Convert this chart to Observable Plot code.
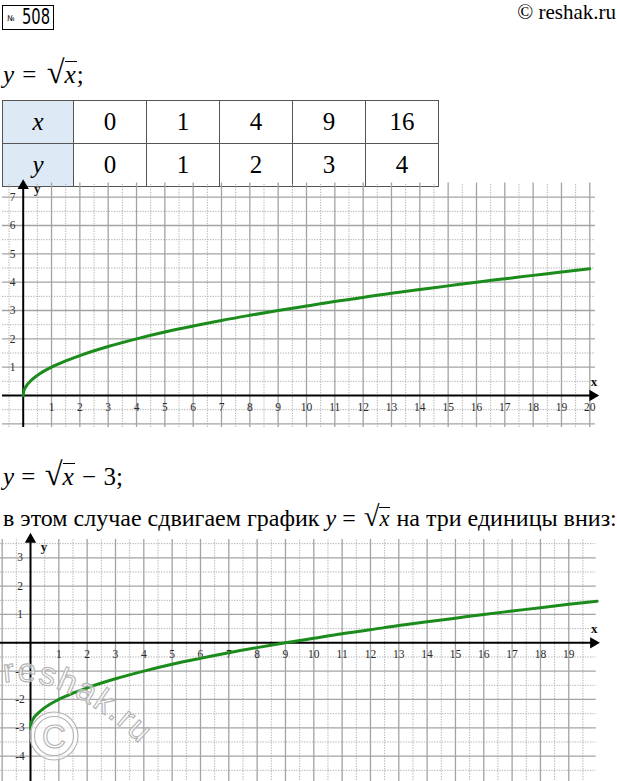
<!DOCTYPE html>
<html>
<head>
<meta charset="utf-8">
<script src="https://cdn.jsdelivr.net/npm/d3@7"></script>
<script src="https://cdn.jsdelivr.net/npm/@observablehq/plot@0.6"></script>
<style>
  html, body { margin: 0; padding: 0; background: #fff; }
  body { width: 617px; height: 781px; position: relative; overflow: hidden; font-family: "Liberation Serif", serif; color: #000; }
  .abs { position: absolute; }
  #num { left: 2px; top: 5px; width: 50px; height: 23px; border: 1.5px solid #000; line-height: 23px; white-space: nowrap; }
  #num .n { font-family: "DejaVu Sans Condensed", sans-serif; font-size: 8px; position: absolute; left: 4px; top: 1px; }
  #num .d { font-family: "DejaVu Sans Condensed", sans-serif; font-size: 21px; position: absolute; left: 19px; top: 0px; display: inline-block; transform: scaleX(0.78); transform-origin: left center; }
  #copy { right: 1px; top: 0px; font-size: 21px; white-space: nowrap; }
  .f { left: 3px; font-size: 25px; white-space: nowrap; line-height: 30px; }
  .rad { font-size: 1.3em; margin-left: 2px; }
  .ol { display: inline-block; border-top: 1.4px solid #000; line-height: 0.9; padding-top: 1px; padding-right: 1px; font-size: 0.78em; }
  table { position: absolute; left: 2px; top: 100px; border-collapse: collapse; font-size: 25px; }
  td { border: 1.2px solid #555; height: 42px; padding: 0; text-align: center; width: 72px; }
  td.h { background: #dde9f4; width: 70px; font-style: italic; }
  .chart { position: absolute; left: 0; }
</style>
</head>
<body>
<div id="num" class="abs"><span class="n">№</span><span class="d">508</span></div>
<div id="copy" class="abs">© reshak.ru</div>
<div class="abs f" style="top:57px; word-spacing:2px"><i>y</i> = <span class="rad">√<span class="ol"><i>x</i></span></span>;</div>
<div id="tbl"></div>
<div id="c1" class="chart" style="top:170px"></div>
<div class="abs f" style="top:459px; word-spacing:1px"><i>y</i> = <span class="rad">√<span class="ol"><i>x</i></span></span> − 3;</div>
<div class="abs f" id="line2" style="top:501px; font-size:24px">в этом случае сдвигаем график <i>y</i> = <span class="rad" style="font-size:1.2em">√<span class="ol"><i>x</i></span></span> на три единицы вниз:</div>
<div id="c2" class="chart" style="top:520px"></div>
<svg class="abs" style="left:0;top:0;pointer-events:none" width="617" height="781">
  <defs><path id="wmArc" d="M 3 683 C 45 674, 108 702, 172 779"/></defs>
  <g fill="rgba(255,255,255,0.55)" stroke="#b3b3b3" stroke-width="1.1">
    <circle cx="54" cy="736" r="24"/>
    <circle cx="54" cy="736" r="19.5"/>
    <text x="54" y="748" text-anchor="middle" font-family="Liberation Sans, sans-serif" font-size="33">C</text>
    <text font-family="Liberation Sans, sans-serif" font-size="33" letter-spacing="2"><textPath href="#wmArc" startOffset="1">reshak.ru</textPath></text>
  </g>
</svg>
<script>
// ---- data ----
const tableX = [0, 1, 4, 9, 16];
const tableY = [0, 1, 2, 3, 4];

const curveX  = [0, 0.02, 0.1, 0.25, 0.5, 1, 1.5, 2, 3, 4, 5, 6, 7, 8, 9, 10, 11, 12, 13, 14, 15, 16, 17, 18, 19, 20];
const curveY1 = [0, 0.14, 0.32, 0.5, 0.71, 1, 1.22, 1.41, 1.73, 2, 2.24, 2.45, 2.65, 2.83, 3, 3.16, 3.32, 3.46, 3.61, 3.74, 3.87, 4, 4.12, 4.24, 4.36, 4.47];
const curveY2 = [-3, -2.86, -2.68, -2.5, -2.29, -2, -1.78, -1.59, -1.27, -1, -0.76, -0.55, -0.35, -0.17, 0, 0.16, 0.32, 0.46, 0.61, 0.74, 0.87, 1, 1.12, 1.24, 1.36, 1.47];

const xTicks1 = [1, 2, 3, 4, 5, 6, 7, 8, 9, 10, 11, 12, 13, 14, 15, 16, 17, 18, 19, 20];
const yTicks1 = [1, 2, 3, 4, 5, 6, 7];
const xTicks2 = [1, 2, 3, 4, 5, 6, 7, 8, 9, 10, 11, 12, 13, 14, 15, 16, 17, 18, 19];
const yTicks2 = [-4, -3, -2, -1, 1, 2, 3];

// ---- table ----
{
  const t = document.createElement("table");
  const r1 = t.insertRow(), r2 = t.insertRow();
  const h1 = r1.insertCell(); h1.className = "h"; h1.textContent = "x";
  const h2 = r2.insertCell(); h2.className = "h"; h2.textContent = "y";
  tableX.forEach((v, i) => {
    r1.insertCell().textContent = v;
    r2.insertCell().textContent = tableY[i];
  });
  document.getElementById("tbl").appendChild(t);
}

const serif = "Liberation Serif, serif";
const U = 28.33;
const GREEN = "#1b8c1b";

function graph({x0px, y0px, height, xmin, xmax, ymin, ymax, axisXEnd, axisYEnd, xTicks, yTicks, ys, xLabel, yLabel}) {
  const majorX = d3.range(Math.ceil(xmin), Math.floor(xmax) + 1).filter(v => v !== 0);
  const minorX = d3.range(Math.ceil(xmin - 0.5) + 0.5, xmax, 1);
  const majorY = d3.range(Math.ceil(ymin), Math.floor(ymax) + 1).filter(v => v !== 0);
  const minorY = d3.range(Math.ceil(ymin - 0.5) + 0.5, ymax, 1);
  const pts = curveX.map((x, i) => ({x, y: ys[i]}));
  return Plot.plot({
    width: 617,
    height,
    margin: 0,
    style: {background: "transparent", overflow: "visible", fontFamily: serif},
    x: {domain: [0, 1], range: [x0px, x0px + U], axis: null},
    y: {domain: [0, 1], range: [y0px, y0px - U], axis: null},
    marks: [
      Plot.ruleX(minorX, {y1: ymin, y2: ymax, stroke: "#b0b0b0", strokeWidth: 1, strokeDasharray: "1.3,1.3"}),
      Plot.ruleY(minorY, {x1: xmin, x2: xmax, stroke: "#b0b0b0", strokeWidth: 1, strokeDasharray: "1.3,1.3"}),
      Plot.ruleX(majorX, {y1: ymin, y2: ymax, stroke: "#a3a3a3", strokeWidth: 1.3}),
      Plot.ruleY(majorY, {x1: xmin, x2: xmax, stroke: "#a3a3a3", strokeWidth: 1.3}),
      Plot.ruleY([0], {x1: xmin, x2: axisXEnd - 0.15, stroke: "#000", strokeWidth: 2}),
      Plot.ruleX([0], {y1: ymin, y2: axisYEnd - 0.15, stroke: "#000", strokeWidth: 2}),
      Plot.dot([0], {x: axisXEnd - 0.1, y: 0, symbol: "triangle", rotate: 90, r: 4.2, fill: "#000", stroke: null}),
      Plot.dot([0], {x: 0, y: axisYEnd - 0.1, symbol: "triangle", r: 4.2, fill: "#000", stroke: null}),
      Plot.text(xTicks, {x: d => d, y: 0, dy: 12, text: d => String(d), fontFamily: serif, fontSize: 11.5, fill: "#2a2a2a"}),
      Plot.text(yTicks, {x: 0, y: d => d, dx: -10.5, text: d => String(d), fontFamily: serif, fontSize: 11.5, fill: "#2a2a2a"}),
      Plot.text([xLabel], {x: d => d.x, y: d => d.y, text: d => d.t, fontFamily: serif, fontSize: 13, fontWeight: "bold", fill: "#111"}),
      Plot.text([yLabel], {x: d => d.x, y: d => d.y, text: d => d.t, fontFamily: serif, fontSize: 13, fontWeight: "bold", fill: "#111"}),
      Plot.line(pts, {x: "x", y: "y", stroke: GREEN, strokeWidth: 3, curve: "monotone-x"})
    ]
  });
}

document.getElementById("c1").appendChild(graph({
  x0px: 22.7, y0px: 225, height: 265,
  xmin: -0.73, xmax: 20.2, ymin: -1.13, ymax: 7.5,
  axisXEnd: 20.2, axisYEnd: 7.5,
  xTicks: xTicks1, yTicks: yTicks1, ys: curveY1,
  xLabel: {x: 20.15, y: 0.5, t: "x"}, yLabel: {x: 0.5, y: 7.3, t: "y"}
}));

document.getElementById("c2").appendChild(graph({
  x0px: 30, y0px: 122.3, height: 261,
  xmin: -1.06, xmax: 19.97, ymin: -4.95, ymax: 3.65,
  axisXEnd: 19.97, axisYEnd: 3.75,
  xTicks: xTicks2, yTicks: yTicks2, ys: curveY2,
  xLabel: {x: 19.9, y: 0.5, t: "x"}, yLabel: {x: 0.48, y: 3.4, t: "y"}
}));
</script>
</body>
</html>
